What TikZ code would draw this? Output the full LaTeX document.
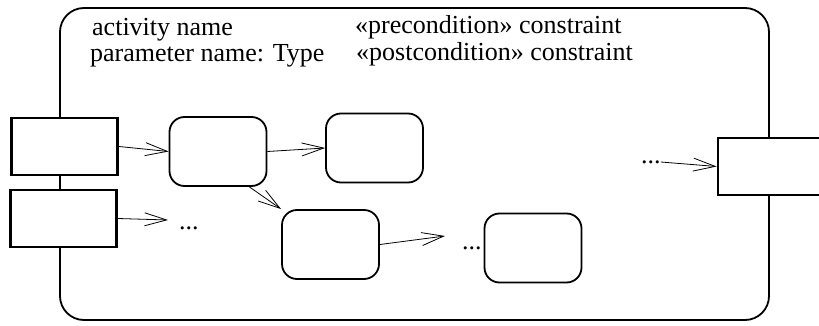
\documentclass[tikz,border=0pt]{standalone}
\usepackage{fontspec}
\setmainfont{Liberation Serif}
\usetikzlibrary{arrows.meta,positioning}

\begin{document}
\begin{tikzpicture}[x=1pt,y=-1pt,
  frame/.style={draw,rounded corners=24pt,line width=1.8pt,minimum width=709pt,minimum height=312pt,inner sep=0pt},
  pin/.style={draw,fill=white,line width=2.8pt,minimum width=106pt,minimum height=57pt,inner sep=0pt},
  action/.style={draw,fill=white,rounded corners=15pt,line width=1.8pt,minimum width=97pt,minimum height=69pt,inner sep=0pt},
  txt/.style={anchor=base west,inner sep=0pt,font=\fontsize{26}{31}\selectfont},
  dots/.style={anchor=base west,inner sep=0pt,font=\fontsize{26}{31}\selectfont},
  flow/.style={-{Straight Barb[length=22pt,width=13pt]},line width=.8pt}]
\useasboundingbox (0,0) rectangle (819,326);
\node[frame] (activity) at (414.5,164) {};
\node[txt] (aname) at (92,36) {activity name};
\node[txt] (pname) at (90,62) {parameter name: Type};
\node[txt] (pre) at (355,34) {«precondition» constraint};
\node[txt] (post) at (356,61) {«postcondition» constraint};
% parameter pins
\node[pin] (in1) at (64.5,146.5) {};
\node[pin] (in2) at (63.5,218.5) {};
\node[pin] (out) at (771,166.5) {};
% actions
\node[action] (act1) at (218,151.5) {};
\node[action] (act2) at (374.5,148) {};
\node[action] (act3) at (330.5,244.5) {};
\node[action] (act4) at (533,248) {};
\node[dots] (more1) at (179,229) {...};
\node[dots] (more2) at (462,249) {...};
\node[dots] (more3) at (641,164) {...};
\draw[flow] (in1.east) -- (act1.west);
\draw[flow] (act1.east) -- (act2.west);
\draw[flow] ([xshift=-18pt]act1.south east) -- (act3.north west);
\draw[flow] (in2.east) -- ([xshift=-11pt,yshift=9pt]more1.base west);
\draw[flow] (act3.east) -- ([xshift=-17pt,yshift=13pt]more2.base west);
\draw[flow] ([yshift=2pt]more3.base east) -- (out.west);
\end{tikzpicture}
\end{document}
